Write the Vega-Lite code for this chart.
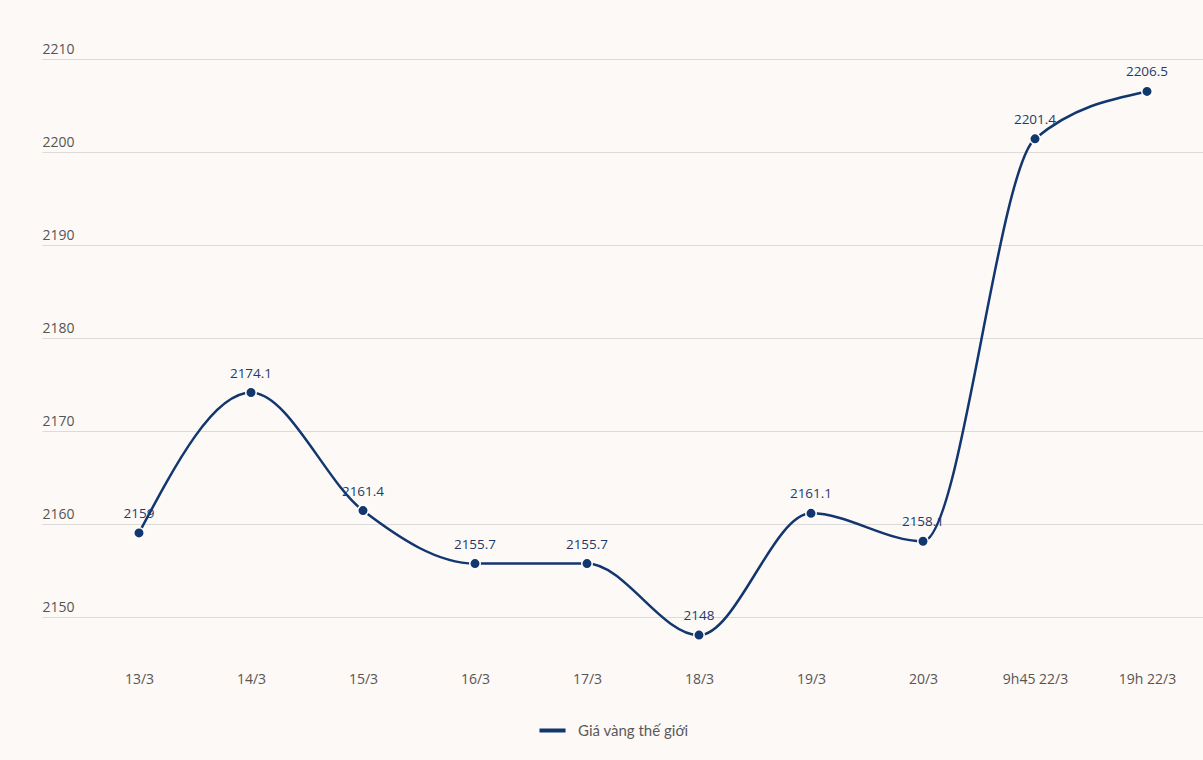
{
  "$schema": "https://vega.github.io/schema/vega-lite/v6.json",
  "width": 1161,
  "height": 632,
  "autosize": {"type": "none"},
  "padding": {"left": 42, "top": 31, "right": 0, "bottom": 97},
  "background": "#fdf9f6",
  "config": {
    "view": {"stroke": null},
    "font": "Open Sans"
  },
  "data": {
    "values": [
      {"ngay": "13/3", "gia": 2159, "nhan": "2159", "series": "Giá vàng thế giới"},
      {"ngay": "14/3", "gia": 2174.1, "nhan": "2174.1", "series": "Giá vàng thế giới"},
      {"ngay": "15/3", "gia": 2161.4, "nhan": "2161.4", "series": "Giá vàng thế giới"},
      {"ngay": "16/3", "gia": 2155.7, "nhan": "2155.7", "series": "Giá vàng thế giới"},
      {"ngay": "17/3", "gia": 2155.7, "nhan": "2155.7", "series": "Giá vàng thế giới"},
      {"ngay": "18/3", "gia": 2148, "nhan": "2148", "series": "Giá vàng thế giới"},
      {"ngay": "19/3", "gia": 2161.1, "nhan": "2161.1", "series": "Giá vàng thế giới"},
      {"ngay": "20/3", "gia": 2158.1, "nhan": "2158.1", "series": "Giá vàng thế giới"},
      {"ngay": "9h45 22/3", "gia": 2201.4, "nhan": "2201.4", "series": "Giá vàng thế giới"},
      {"ngay": "19h 22/3", "gia": 2206.5, "nhan": "2206.5", "series": "Giá vàng thế giới"}
    ]
  },
  "encoding": {
    "x": {
      "field": "ngay",
      "type": "ordinal",
      "sort": null,
      "scale": {"type": "point", "padding": 0.683, "align": 0.634},
      "axis": {
        "title": null,
        "domain": false,
        "ticks": false,
        "grid": false,
        "labelAngle": 0,
        "labelPadding": 9,
        "labelFontSize": 14,
        "labelColor": "#555555",
        "labelFont": "Open Sans"
      }
    },
    "y": {
      "field": "gia",
      "type": "quantitative",
      "scale": {"domain": [2145, 2213], "nice": false, "zero": false},
      "axis": {
        "title": null,
        "format": "d",
        "values": [2150, 2160, 2170, 2180, 2190, 2200, 2210],
        "domain": false,
        "ticks": false,
        "grid": true,
        "gridColor": "#dddbd8",
        "gridWidth": 1,
        "labelAlign": "left",
        "labelBaseline": "alphabetic",
        "labelOffset": -5,
        "labelPadding": 0,
        "labelFontSize": 14,
        "labelColor": "#555555",
        "labelFont": "Open Sans"
      }
    }
  },
  "layer": [
    {
      "mark": {"type": "line", "interpolate": "monotone", "strokeWidth": 2.5},
      "encoding": {
        "color": {
          "field": "series",
          "type": "nominal",
          "scale": {"range": ["#12366e"]},
          "legend": {
            "title": null,
            "orient": "none",
            "legendX": 495,
            "legendY": 684,
            "direction": "horizontal",
            "symbolType": "stroke",
            "symbolStrokeWidth": 4,
            "symbolSize": 680,
            "labelOffset": 10,
            "labelFontSize": 15,
            "labelColor": "#5a5a5a",
            "labelFont": "Lato"
          }
        }
      }
    },
    {
      "mark": {"type": "point", "filled": true, "size": 110, "color": "#12366e", "stroke": "#ffffff", "strokeWidth": 1.5, "opacity": 1}
    },
    {
      "mark": {"type": "text", "dy": -19, "fontSize": 13.5, "color": "#1f3b6e", "font": "Open Sans"},
      "encoding": {"text": {"field": "nhan"}}
    }
  ]
}
